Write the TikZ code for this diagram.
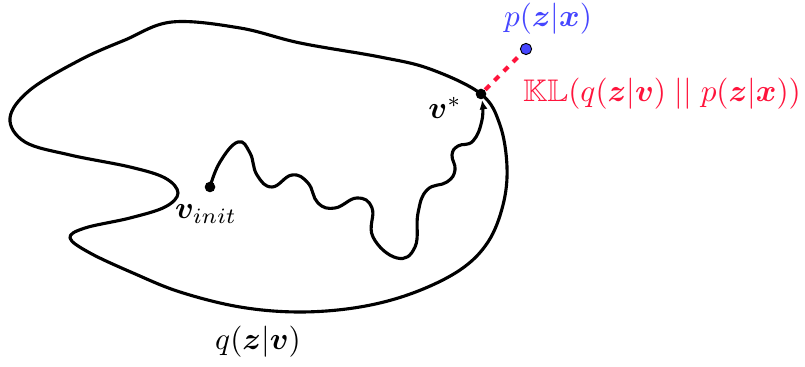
\documentclass[tikz,border=0pt]{standalone}
\usepackage{amsmath,amssymb,bm}
\usetikzlibrary{arrows.meta}
\definecolor{klred}{RGB}{255,20,60}
\definecolor{pblue}{RGB}{70,70,255}
\begin{document}
\begin{tikzpicture}[x=0.32pt,y=-0.32pt,
  curve/.style={line width=1pt,line join=round},
  dotnode/.style={circle,fill=black,inner sep=0pt,minimum size=3.4pt},
  bluedot/.style={circle,fill=pblue,draw=black,line width=0.3pt,inner sep=0pt,minimum size=3.6pt},
  lbl/.style={inner sep=0pt}]
\useasboundingbox (0,0) rectangle (805,367);
% blob
\draw[curve] plot[smooth cycle,tension=0.6] coordinates {
 (172,22) (240,28) (300,43) (380,57) (430,69) (481,94) (500,125) (507,167) (503,205)
 (488,242) (460,270) (413,293) (360,307) (300,312) (240,307) (180,292) (133,273)
 (90,253) (70,238) (85,228) (130,218) (165,207) (178,193) (165,178) (130,167)
 (70,155) (25,142) (10,118) (30,90) (80,60) (125,40)};
% nodes
\node[dotnode] (vinit) at (210,187) {};
\node[dotnode] (vstar) at (481,94) {};
\node[bluedot] (p) at (526,49) {};
\node[lbl] (vinitlbl) at (206,214) {$\bm{v}_{init}$};
\node[lbl] (vstarlbl) at (445,108) {$\bm{v}^{*}$};
\node[lbl] (qlbl) at (258,342) {$q(\bm{z}|\bm{v})$};
\node[lbl,text=pblue] (plbl) at (548,19) {$p(\bm{z}|\bm{x})$};
\node[lbl,text=klred] (kllbl) at (662,94) {$\mathbb{KL}(q(\bm{z}|\bm{v})\;||\;p(\bm{z}|\bm{x}))$};
\coordinate (vend) at (482,100);
% walk
\draw[curve,-{Latex[length=3pt,width=2.6pt]}] plot[smooth,tension=0.75] coordinates {
 (vinit) (220,162) (238,142) (250,153) (257,175) (272,187) (292,175) (308,183) (318,203)
 (335,208) (357,198) (372,208) (373,237) (397,258) (415,247) (418,213) (427,190)
 (447,182) (455,170) (452,155) (458,146) (473,141) (482,120) (vend)};
% KL line
\draw[klred,line width=1.3pt,dash pattern=on 2pt off 2.2pt] (vstar) -- (p);
\end{tikzpicture}
\end{document}
